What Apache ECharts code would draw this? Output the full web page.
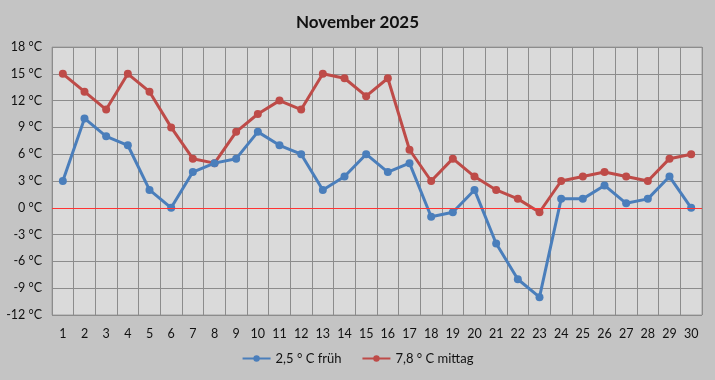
<!DOCTYPE html>
<html><head><meta charset="utf-8">
<script src="https://cdn.jsdelivr.net/npm/echarts@6/dist/echarts.min.js"></script>
<style>html,body{margin:0;padding:0;background:#c4c4c4}#c{width:715px;height:380px}</style>
</head><body><div id="c"></div>
<script>
var days = ['1','2','3','4','5','6','7','8','9','10','11','12','13','14','15','16','17','18','19','20','21','22','23','24','25','26','27','28','29','30'];
var frueh = [3,10,8,7,2,0,4,5,5.5,8.5,7,6,2,3.5,6,4,5,-1,-0.5,2,-4,-8,-10,1,1,2.5,0.5,1,3.5,0];
var mittag = [15,13,11,15,13,9,5.5,5,8.5,10.5,12,11,15,14.5,12.5,14.5,6.5,3,5.5,3.5,2,1,-0.5,3,3.5,4,3.5,3,5.5,6];
var seriesNames = ['2,5 ° C früh','7,8 ° C mittag'];
var titleText = 'November 2025';
var FONT = 'Lato, "Open Sans", sans-serif';
var chart = echarts.init(document.getElementById('c'));
chart.setOption({
  backgroundColor: '#c4c4c4',
  animation: false,
  title: {text: titleText, left: 'center', top: 9, textStyle: {fontFamily: FONT, fontSize: 17, fontWeight: 'bold', color: '#111'}},
  legend: {bottom: 10, left: 'center', itemWidth: 28, itemHeight: 8, itemGap: 20,
    textStyle: {fontFamily: FONT, fontSize: 13, color: '#111'}, data: seriesNames},
  grid: {left: 52, right: 13, top: 47, bottom: 65, show: true, backgroundColor: '#dadada', borderColor: '#a0a0a0', borderWidth: 1},
  xAxis: {type: 'category', data: days, boundaryGap: true,
    axisLine: {show: false}, axisTick: {show: false},
    axisLabel: {fontFamily: FONT, fontSize: 12.5, color: '#111', margin: 12, interval: 0},
    splitLine: {show: true, interval: 0, lineStyle: {color: '#8c8c8c', width: 1}}},
  yAxis: {type: 'value', min: -12, max: 18, interval: 3,
    axisLine: {show: false}, axisTick: {show: false},
    axisLabel: {fontFamily: FONT, fontSize: 12.5, color: '#111', margin: 10, formatter: '{value} °C'},
    splitLine: {show: true, lineStyle: {color: '#8c8c8c', width: 1}}},
  series: [
    {name: seriesNames[0], type: 'line', data: frueh, color: '#4a7ebb', symbol: 'circle', symbolSize: 8,
     lineStyle: {width: 3}, z: 3,
     markLine: {silent: true, symbol: 'none', label: {show: false}, lineStyle: {color: '#ff3333', width: 1, type: 'solid'}, data: [{yAxis: 0}]}},
    {name: seriesNames[1], type: 'line', data: mittag, color: '#be4b48', symbol: 'circle', symbolSize: 8,
     lineStyle: {width: 3}, z: 2}
  ]
});
</script></body></html>
